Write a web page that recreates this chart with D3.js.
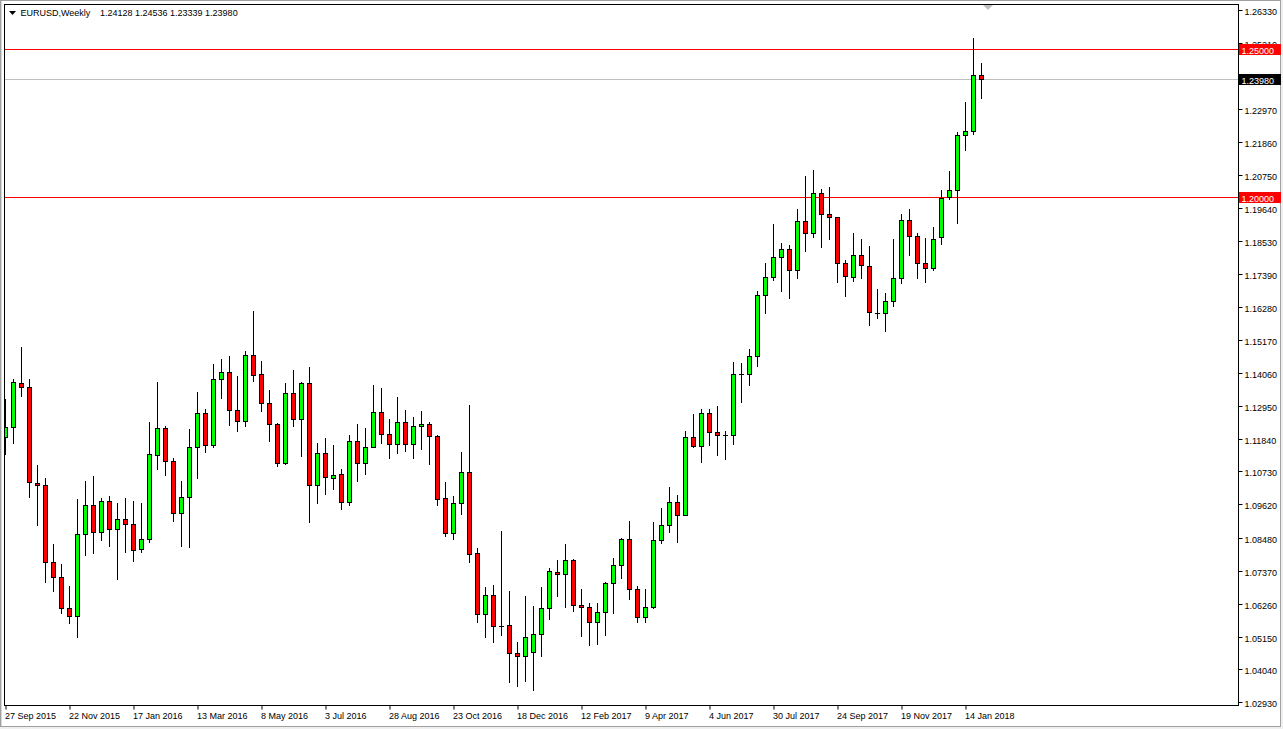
<!DOCTYPE html>
<html><head><meta charset="utf-8">
<script src="https://cdn.jsdelivr.net/npm/d3@7"></script>
<style>html,body{margin:0;padding:0;background:#fff;overflow:hidden}</style>
</head><body><svg id="c" width="1283" height="729"></svg>
<script>
// ---------- data ----------
const symbolTitle = "EURUSD,Weekly";
const titleValues = "1.24128 1.24536 1.23339 1.23980";
const dateLabels = ["27 Sep 2015","22 Nov 2015","17 Jan 2016","13 Mar 2016","8 May 2016","3 Jul 2016","28 Aug 2016","23 Oct 2016","18 Dec 2016","12 Feb 2017","9 Apr 2017","4 Jun 2017","30 Jul 2017","24 Sep 2017","19 Nov 2017","14 Jan 2018"];
const dateLabelIndex = [0,8,16,24,32,40,48,56,64,72,80,88,96,104,112,120];
const priceTicks = [1.2633,1.2521,1.2409,1.2297,1.2186,1.2075,1.1964,1.1853,1.1739,1.1628,1.1517,1.1406,1.1295,1.1184,1.1073,1.0962,1.0848,1.0737,1.0626,1.0515,1.0404,1.0293];
const levelLines = [1.25, 1.20];
const bidPrice = 1.2398;

const open = [1.1188,1.1222,1.1371,1.1357,1.1033,1.1026,1.0766,1.0715,1.0610,1.0583,
1.0860,1.0958,1.0867,1.0972,1.0877,1.0911,1.0894,1.0810,1.0844,1.1127,
1.1219,1.1107,1.0931,1.0985,1.1154,1.1269,1.1161,1.1384,1.1408,1.1279,
1.1242,1.1465,1.1401,1.1303,1.1232,1.1100,1.1337,1.1249,1.1371,1.1026,
1.1134,1.1050,1.1063,1.0969,1.1175,1.1100,1.1154,1.1273,1.1198,1.1165,
1.1239,1.1165,1.1225,1.1232,1.1192,1.0982,1.0864,1.0965,1.1070,1.0796,
1.0592,1.0654,1.0551,1.0553,1.0458,1.0448,1.0462,1.0523,1.0610,1.0732,
1.0725,1.0773,1.0621,1.0614,1.0563,1.0597,1.0695,1.0756,1.0844,1.0675,
1.0580,1.0614,1.0841,1.0891,1.0969,1.0925,1.1188,1.1160,1.1269,1.1205,
1.1195,1.1195,1.1401,1.1401,1.1462,1.1668,1.1729,1.1796,1.1823,1.1752,
1.1918,1.1877,1.2012,1.1942,1.1931,1.1776,1.1731,1.1803,1.1766,1.1609,
1.1607,1.1648,1.1725,1.1921,1.1867,1.1776,1.1759,1.1864,1.2001,1.2023,
1.2208,1.2222,1.24128];
const high = [1.1318,1.1384,1.1492,1.1384,1.1095,1.1050,1.0828,1.0759,1.0686,1.0979,
1.1041,1.1057,1.0982,1.0990,1.0966,1.0983,1.0973,1.0966,1.1240,1.1375,
1.1225,1.1117,1.1041,1.1216,1.1341,1.1284,1.1435,1.1452,1.1463,1.1394,
1.1480,1.1614,1.1445,1.1348,1.1235,1.1371,1.1416,1.1375,1.1425,1.1168,
1.1185,1.1161,1.1080,1.1195,1.1232,1.1219,1.1365,1.1354,1.1249,1.1323,
1.1279,1.1256,1.1276,1.1239,1.1195,1.1036,1.0989,1.1137,1.1296,1.0813,
1.0681,1.0688,1.0872,1.0669,1.0496,1.0652,1.0618,1.0682,1.0746,1.0774,
1.0828,1.0776,1.0676,1.0628,1.0628,1.0698,1.0779,1.0847,1.0904,1.0685,
1.0676,1.0901,1.0948,1.1020,1.0993,1.1209,1.1266,1.1284,1.1283,1.1293,
1.1208,1.1443,1.1439,1.1486,1.1682,1.1777,1.1908,1.1845,1.1837,1.1958,
1.2071,1.2091,1.2026,1.2034,1.1933,1.1787,1.1878,1.1858,1.1834,1.1689,
1.1676,1.1858,1.1943,1.1959,1.1877,1.1860,1.1899,1.2024,1.2087,1.2220,
1.2321,1.2536,1.24536];
const low = [1.1131,1.1168,1.1329,1.0988,1.0893,1.0698,1.0670,1.0596,1.0562,1.0515,
1.0792,1.0798,1.0842,1.0822,1.0708,1.0802,1.0771,1.0802,1.0835,1.1082,
1.1062,1.0906,1.0822,1.0819,1.1052,1.1140,1.1154,1.1322,1.1230,1.1210,
1.1226,1.1377,1.1278,1.1177,1.1092,1.1097,1.1227,1.1126,1.0903,1.0967,
1.0998,1.1013,1.0947,1.0958,1.1042,1.1065,1.1154,1.1170,1.1119,1.1136,
1.1143,1.1119,1.1150,1.1099,1.0960,1.0856,1.0846,1.0930,1.0768,1.0565,
1.0515,1.0498,1.0521,1.0363,1.0349,1.0366,1.0335,1.0450,1.0575,1.0653,
1.0616,1.0602,1.0518,1.0488,1.0491,1.0521,1.0596,1.0714,1.0643,1.0565,
1.0565,1.0610,1.0830,1.0869,1.0835,1.0925,1.1156,1.1106,1.1163,1.1129,
1.1116,1.1167,1.1308,1.1366,1.1430,1.1609,1.1721,1.1683,1.1660,1.1727,
1.1819,1.1866,1.1832,1.1859,1.1714,1.1667,1.1717,1.1727,1.1569,1.1592,
1.1548,1.1633,1.1710,1.1805,1.1727,1.1714,1.1754,1.1842,1.1994,1.1913,
1.2160,1.2212,1.23339];
const close = [1.1222,1.1374,1.1357,1.1036,1.1026,1.0766,1.0715,1.0610,1.0583,1.0860,
1.0958,1.0867,1.0972,1.0877,1.0911,1.0894,1.0806,1.0844,1.1131,1.1219,
1.1107,1.0931,1.0985,1.1154,1.1269,1.1161,1.1384,1.1408,1.1279,1.1242,
1.1465,1.1398,1.1303,1.1232,1.1100,1.1337,1.1249,1.1371,1.1026,1.1134,
1.1053,1.1060,1.0969,1.1175,1.1100,1.1154,1.1273,1.1198,1.1165,1.1239,
1.1165,1.1225,1.1232,1.1192,1.0979,1.0864,1.0965,1.1070,1.0793,1.0592,
1.0654,1.0550,1.0551,1.0458,1.0448,1.0512,1.0523,1.0610,1.0735,1.0725,
1.0773,1.0621,1.0614,1.0563,1.0597,1.0695,1.0756,1.0844,1.0675,1.0580,
1.0614,1.0840,1.0891,1.0969,1.0925,1.1188,1.1160,1.1269,1.1205,1.1195,
1.1195,1.1401,1.1401,1.1462,1.1668,1.1729,1.1796,1.1823,1.1752,1.1918,
1.1877,1.2012,1.1942,1.1931,1.1776,1.1734,1.1803,1.1769,1.1610,1.1609,
1.1648,1.1725,1.1921,1.1867,1.1776,1.1759,1.1857,1.1998,1.2023,1.2208,
1.2222,1.2413,1.23980];

// ---------- layout ----------
const W = 1283, H = 729;
const plot = {l: 4.5, t: 4.5, r: 1238.5, b: 705.5};
const FONT = "'Liberation Sans', Arial, sans-serif";
const svg = d3.select("#c");
const snap = v => Math.round(v - 0.5) + 0.5;

const x = d3.scaleLinear().domain([0, 1]).range([5.5, 13.5]);
const y = d3.scaleLinear().domain([1.25, 1.20]).range([49.5, 197.5]);

// window frame
svg.append("rect").attr("x",0).attr("y",0).attr("width",W).attr("height",H).attr("fill","#f0f0f0");
svg.append("rect").attr("x",0).attr("y",0).attr("width",1281).attr("height",727).attr("fill","#ffffff");
svg.append("rect").attr("x",0.5).attr("y",0.5).attr("width",1280).attr("height",726)
  .attr("fill","none").attr("stroke","#a0a0a0");
svg.append("line").attr("x1",1.5).attr("x2",1.5).attr("y1",1).attr("y2",726).attr("stroke","#d8d8d8");

// clip for plot contents
svg.append("defs").append("clipPath").attr("id","pc").append("rect")
  .attr("x", plot.l + 0.5).attr("y", plot.t + 0.5)
  .attr("width", plot.r - plot.l - 1).attr("height", plot.b - plot.t - 1);
const g = svg.append("g").attr("clip-path","url(#pc)");

// level lines
g.selectAll("line.lvl").data(levelLines).join("line").attr("class","lvl")
  .attr("x1", plot.l).attr("x2", plot.r)
  .attr("y1", d => snap(y(d))).attr("y2", d => snap(y(d)))
  .attr("stroke", "#ff0000").attr("stroke-width", 1);
g.append("line").attr("x1", plot.l).attr("x2", plot.r)
  .attr("y1", snap(y(bidPrice))).attr("y2", snap(y(bidPrice)))
  .attr("stroke", "#c0c0c0").attr("stroke-width", 1);

// candles
const idx = d3.range(open.length);
const cg = g.append("g");
cg.selectAll("line.wick").data(idx).join("line").attr("class","wick")
  .attr("x1", i => x(i)).attr("x2", i => x(i))
  .attr("y1", i => snap(y(high[i])) - 0.5).attr("y2", i => snap(y(low[i])) + 0.5)
  .attr("stroke", "#000").attr("stroke-width", 1);
idx.forEach(i => {
  const top = snap(y(Math.max(open[i], close[i])));
  const bot = snap(y(Math.min(open[i], close[i])));
  const cx = x(i);
  if (bot - top < 1) {
    cg.append("line").attr("x1", cx - 2.5).attr("x2", cx + 2.5)
      .attr("y1", top).attr("y2", top).attr("stroke", "#000").attr("stroke-width", 1);
  } else {
    cg.append("rect").attr("x", cx - 2).attr("y", top).attr("width", 4).attr("height", bot - top)
      .attr("fill", close[i] >= open[i] ? "#00ff00" : "#ff0000")
      .attr("stroke", "#000").attr("stroke-width", 1);
  }
});

// plot border
svg.append("rect").attr("x", plot.l).attr("y", plot.t)
  .attr("width", plot.r - plot.l).attr("height", plot.b - plot.t)
  .attr("fill", "none").attr("stroke", "#000").attr("stroke-width", 1);

// chart shift marker
svg.append("path").attr("d", "M983,5 L993,5 L988,10 Z").attr("fill", "#c0c0c0");

// right price axis
const yAxis = d3.axisRight(y).tickValues(priceTicks).tickSize(4).tickPadding(2)
  .tickFormat(d3.format(".5f"));
const ya = svg.append("g").attr("transform", `translate(${plot.r},0)`).call(yAxis);
ya.select(".domain").remove();
ya.selectAll(".tick").attr("transform", d => `translate(0,${snap(y(d))})`);
ya.selectAll(".tick line").attr("stroke", "#000");
ya.selectAll(".tick text").attr("font-family", FONT).attr("font-size", 9)
  .attr("fill", "#000").attr("dy", null).attr("y", 4.5).attr("x", 6);

// bottom time axis
const xAxis = d3.axisBottom(x).tickValues(dateLabelIndex).tickSize(4)
  .tickFormat((d, i) => dateLabels[i]);
const xa = svg.append("g").attr("transform", `translate(0,${plot.b})`).call(xAxis);
xa.select(".domain").remove();
xa.selectAll(".tick line").attr("stroke", "#000");
xa.selectAll(".tick text").attr("font-family", FONT).attr("font-size", 9)
  .attr("fill", "#000").attr("text-anchor", "start").attr("dy", null).attr("y", 13).attr("x", -1);

// price labels on axis
const boxes = [
  {v: levelLines[0], fill: "#ff0000"},
  {v: bidPrice, fill: "#000000"},
  {v: levelLines[1], fill: "#ff0000"}
];
const bg = svg.append("g");
boxes.forEach(b => {
  const yy = Math.round(y(b.v) - 0.5);
  bg.append("rect").attr("x", 1239).attr("y", yy - 5).attr("width", 42).attr("height", 11).attr("fill", b.fill);
  bg.append("text").attr("x", 1241.5).attr("y", yy + 4.5).attr("font-family", FONT).attr("font-size", 9)
    .attr("fill", "#fff").text(d3.format(".5f")(b.v));
});

// title
svg.append("path").attr("d", "M9,11 L16,11 L12.5,15 Z").attr("fill", "#000");
svg.append("text").attr("x", 20.5).attr("y", 16).attr("font-family", FONT).attr("font-size", 9)
  .attr("fill", "#000").text(symbolTitle);
svg.append("text").attr("x", 100).attr("y", 16).attr("font-family", FONT).attr("font-size", 9)
  .attr("fill", "#000").text(titleValues);
</script>
</body></html>
